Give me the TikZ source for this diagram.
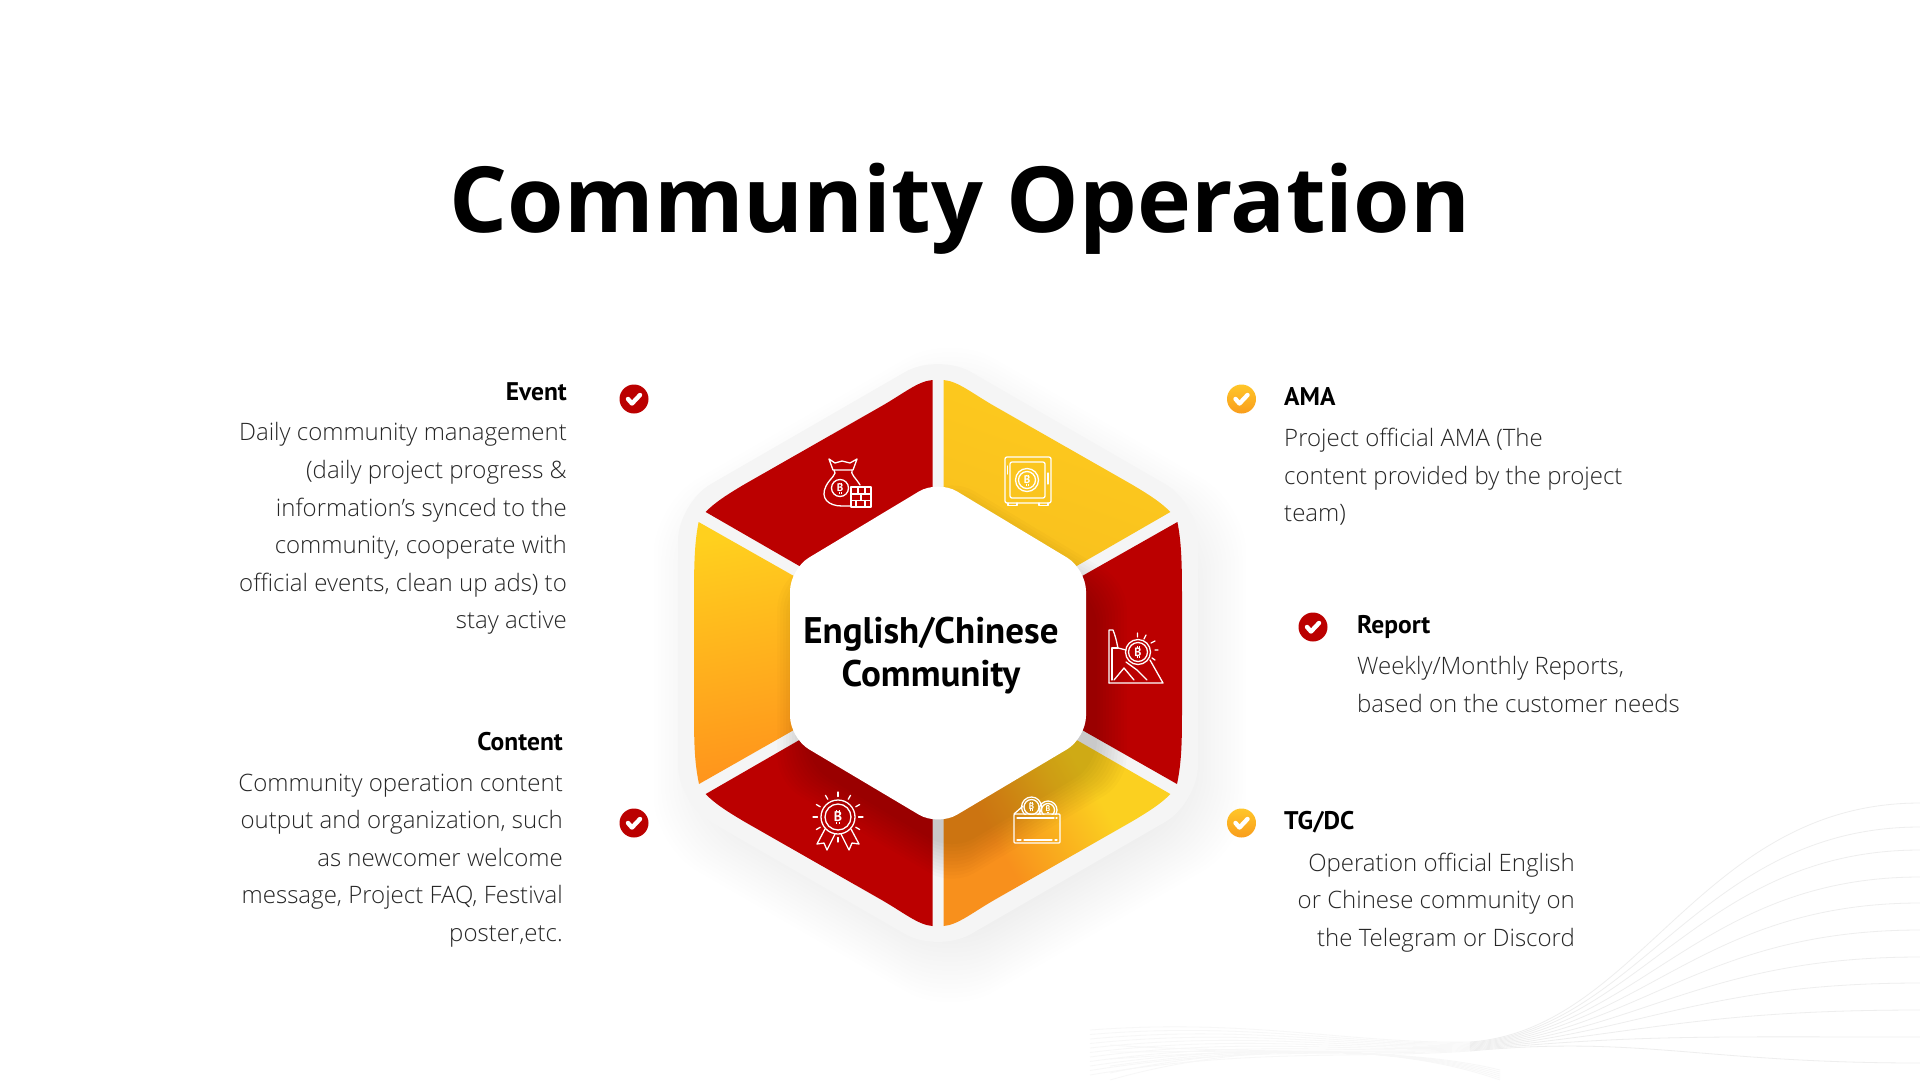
\documentclass[tikz,border=0pt]{standalone}
\usepackage{fontspec}
\setmainfont{Open Sans}[UprightFont=* Light,BoldFont=* Bold]
\newfontfamily\titlefont{Open Sans}[UprightFont=* Bold]
\newfontfamily\headfont{PT Sans}[UprightFont=* Bold]
\definecolor{segred}{HTML}{BB0000}
\definecolor{hexlight}{HTML}{F5F5F5}
\definecolor{waveA}{HTML}{EEEEEE}
\definecolor{waveB}{HTML}{F7F7F7}
\definecolor{FFC629}{HTML}{FFC629}
\definecolor{F99D1C}{HTML}{F99D1C}
\definecolor{segyel}{HTML}{FECB1E}
\definecolor{segyel2}{HTML}{F8C01E}
\definecolor{segtop}{HTML}{FFD01E}
\definecolor{segorange}{HTML}{FF941C}
\definecolor{lrorange}{HTML}{F8901C}
\definecolor{lryellow}{HTML}{FBD020}
\pgfdeclarehorizontalshading{lrseg}{100bp}{color(0bp)=(lrorange); color(36bp)=(lrorange); color(62bp)=(lryellow); color(100bp)=(lryellow)}
\tikzset{
  x=1pt,y=-1pt,
  titletext/.style={font=\titlefont\fontsize{91.3}{100}\selectfont,text=black,inner sep=0pt},
  headtext/.style={font=\headfont\fontsize{25.5}{30}\selectfont,text=black,inner sep=0pt},
  bodytext/.style={font=\fontsize{24}{37.6}\selectfont,text=black!85,inner sep=0pt},
  centertext/.style={font=\headfont\fontsize{37}{43}\selectfont,text=black,inner sep=0pt,align=center},
  iconline/.style={draw=white,line width=1.3pt,line join=round,line cap=round},
  btc/.style={text=white,inner sep=0pt},
  checkmark/.style={draw=white,line width=4.4pt,line cap=round,line join=round},
  redcheck/.style={fill=segred},
  yellowcheck/.style={top color=FFC629,bottom color=F99D1C},
}
% bitcoin mark: letter B with the four ticks, args: name, x, y, size
\newcommand\btcmark[4]{%
  \node[btc,font=\headfont\fontsize{#4}{#4}\selectfont] (#1) at (#2,#3) {B};
  \draw[white,line width=.9pt,shift={(#2,#3)}]
    ({-.08*#4},{-.36*#4}) -- ({-.08*#4},{-.5*#4})
    ({.1*#4},{-.36*#4}) -- ({.1*#4},{-.5*#4})
    ({-.08*#4},{.36*#4}) -- ({-.08*#4},{.5*#4})
    ({.1*#4},{.36*#4}) -- ({.1*#4},{.5*#4});
}
\begin{document}
\begin{tikzpicture}
\useasboundingbox (0,0) rectangle (1920,1080);
\fill[white] (0,0) rectangle (1920,1080);
% background waves
\foreach \i/\e in {0/803,1/827,2/850,3/877,4/903,5/930,6/957,7/983,8/1010,9/1037,10/1063}{
  \draw[waveB,line width=.8pt] (1090,{1030+\i*4.5}) .. controls (1250,{1018+\i*3}) and (1350,{1044+\i*1.5}) .. (1470,{1042+\i*.9});
  \draw[waveA,line width=.8pt] (1470,{1042+\i*.9}) .. controls (1640,{1030+\i*.5}) and (1700,\e) .. (1920,\e);
}
\foreach \i in {0,...,5}{
  \draw[waveB,line width=.8pt] (1110,{1080-\i*7}) .. controls (1250,{1040+\i*3}) and (1400,1045) .. (1500,{1080-\i*2});
}
% outer hexagon shadow
\foreach \s in {.90,.915,...,1.15}{
  \fill[black,opacity=.0055,rounded corners=50pt,shift={(950,675)},scale=\s]
    (0,-300) -- (260,-150) -- (260,150) -- (0,300) -- (-260,150) -- (-260,-150) -- cycle;
}
% light hexagon
\fill[hexlight,rounded corners=38pt] (938,353) -- (1198,503) -- (1198,803) -- (938,953) -- (678,803) -- (678,503) -- cycle;
% segments
\path[fill=segred] (932.5,380) .. controls (918,381) and (903,394) .. (880,407) -- (745,484) .. controls (728,494) and (714,503) .. (705.7,512) -- (815,575) -- (932.5,510) -- cycle;
\shade[top color=segyel,bottom color=segyel2,shading angle=-20] (943.5,380) .. controls (958,381) and (973,394) .. (996,407) -- (1131,484) .. controls (1148,494) and (1162,503) .. (1170.3,512) -- (1061,575) -- (943.5,510) -- cycle;
\shade[top color=segtop,bottom color=segorange,shading angle=10] (698.6,522) -- (815,588) -- (815,718) -- (699,784) .. controls (694,760) and (694,740) .. (694,700) -- (694,606) .. controls (694,570) and (694,545) .. (698.6,522) -- cycle;
\path[fill=segred] (1177.4,522) -- (1061,588) -- (1061,718) -- (1177,784) .. controls (1182,760) and (1182,740) .. (1182,700) -- (1182,606) .. controls (1182,570) and (1182,545) .. (1177.4,522) -- cycle;
\path[fill=segred] (932.5,926) .. controls (918,925) and (903,912) .. (880,899) -- (745,822) .. controls (728,812) and (714,803) .. (705.7,794) -- (815,731) -- (932.5,796) -- cycle;
\shade[shading=lrseg,shading angle=30] (943.5,926) .. controls (958,925) and (973,912) .. (996,899) -- (1131,822) .. controls (1148,812) and (1162,803) .. (1170.3,794) -- (1061,731) -- (943.5,796) -- cycle;
% inner hexagon shadow
\foreach \s in {.98,1.0,...,1.2}{
  \fill[black,opacity=.016,rounded corners=25pt,shift={(952,682)},scale=\s]
    (0,-173) -- (148,-84) -- (148,85) -- (0,173) -- (-148,85) -- (-148,-84) -- cycle;
}
% inner hexagon
\fill[white,rounded corners=22pt] (938,480) -- (1086,569) -- (1086,738) -- (938,826) -- (790,738) -- (790,569) -- cycle;
\node[centertext] (centerlabel) at (931,656) {English/Chinese\\Community};
% title
\node[titletext,anchor=base] (title) at (960,232) {Community Operation};
% icon: money bag
\begin{scope}[iconline]
\draw (829,459) -- (835,463) -- (842,461) -- (850,463) -- (857,459) -- (853,470) -- (833,470) -- cycle;
\draw (834,470) .. controls (838,474) and (830,478) .. (826,486) .. controls (820,498) and (828,506) .. (842,506) -- (850,506);
\draw (852,470) .. controls (850,474) and (856,478) .. (860,485);
\draw (840,488) circle (8.5);
\draw (851,487) rectangle (871,507);
\draw (851,494) -- (871,494) (851,500.5) -- (871,500.5) (858,487) -- (858,494) (865,487) -- (865,494) (861,494) -- (861,500.5) (856,500.5) -- (856,507) (865,500.5) -- (865,507);
\end{scope}
\btcmark{btcbag}{840}{488}{11}
% icon: safe
\begin{scope}[iconline]
\draw[rounded corners=2pt] (1005,457) rectangle (1051,503);
\draw[rounded corners=2pt] (1010,462) rectangle (1045,498);
\draw (1027,480) circle (11.5) (1027,480) circle (8.5);
\draw (1008,503) -- (1008,505.5) -- (1017,505.5) -- (1017,503) (1039,503) -- (1039,505.5) -- (1048,505.5) -- (1048,503);
\draw (1007.5,466) -- (1007.5,474) (1048,473) -- (1048,484);
\end{scope}
\btcmark{btcsafe}{1027}{480}{11}
% icon: falling chart
\begin{scope}[iconline]
\draw (1109,683) -- (1109,630) -- (1113,630) .. controls (1117,640) and (1118,650) .. (1118,648) -- (1126,650);
\draw (1109,683) -- (1163,683) -- (1150,660);
\draw (1118,648) -- (1112,648) -- (1112,680);
\draw (1126,662) -- (1137,670) -- (1147,680) (1114,680) -- (1124,668) -- (1134,680);
\draw (1138,652) circle (12.5) (1138,652) circle (9.5);
\draw (1137.5,633) -- (1137.5,637) (1146,635) -- (1144,639) (1155,641) -- (1151,643) (1158,650) -- (1155,650) (1155,660) -- (1152,658);
\end{scope}
\btcmark{btcchart}{1138}{652}{12}
% icon: medal
\begin{scope}[iconline,shift={(838,817)}]
\draw (0,0) circle (17) (0,0) circle (13);
\foreach \a in {0,30,...,330}{ \ifnum\a=60\relax\else\ifnum\a=120\relax\else\draw (\a:20.5) -- (\a:25);\fi\fi }
\draw (-13,12) -- (-21,27) -- (-14,26) -- (-11,33) -- (-3,17);
\draw (13,12) -- (21,27) -- (14,26) -- (11,33) -- (3,17);
\end{scope}
\btcmark{btcmedal}{838}{817}{14}
% icon: wallet
\begin{scope}[iconline]
\begin{scope}
\clip (1010,790) rectangle (1070,814);
\draw (1031.5,807) circle (10) (1031.5,807) circle (7.5);
\draw (1048,810) circle (9) (1048,810) circle (6.5);
\end{scope}
\draw[rounded corners=1pt] (1014,814) rectangle (1060,843);
\draw (1014,814) -- (1023,806);
\draw (1017,818) -- (1054,818) (1056,818) -- (1057,818) (1017,840) -- (1021,840) (1024,840) -- (1052,840) (1055,840) -- (1057,840);
\end{scope}
\btcmark{btcwa}{1031.5}{806}{9}
\btcmark{btcwb}{1048}{809}{8}
% check marks
\foreach \n/\cx/\cy/\st in {ca/634/399/redcheck,cb/634/823/redcheck,cc/1313/627/redcheck,cd/1241.5/399/yellowcheck,ce/1241.5/823/yellowcheck}{
  \path[\st] (\cx,\cy) circle (14.5);
  \draw[checkmark,shift={(\cx,\cy)}] (-6,0) -- (-2,4.5) -- (6,-4);
}
% texts
\node[headtext,anchor=base east] (eventhead) at (567,400) {Event};
\node[bodytext,anchor=north east,align=right] (eventbody) at (567,422.5) {Daily community management\\(daily project progress \&\\information's synced to the\\community, cooperate with\\official events, clean up ads) to\\stay active};
\node[headtext,anchor=base east] (contenthead) at (563,750) {Content};
\node[bodytext,anchor=north east,align=right] (contentbody) at (563,773.5) {Community operation content\\output and organization, such\\as newcomer welcome\\message, Project FAQ, Festival\\poster,etc.};
\node[headtext,anchor=base west] (amahead) at (1284,405) {AMA};
\node[bodytext,anchor=north west,align=left] (amabody) at (1284,428) {Project official AMA (The\\content provided by the project\\team)};
\node[headtext,anchor=base west] (reporthead) at (1357,633) {Report};
\node[bodytext,anchor=north west,align=left] (reportbody) at (1357,656.5) {Weekly/Monthly Reports,\\based on the customer needs};
\node[headtext,anchor=base west] (tghead) at (1284,829) {TG/DC};
\node[bodytext,anchor=north east,align=right] (tgbody) at (1575,852.5) {Operation official English\\or Chinese community on\\the Telegram or Discord};
\end{tikzpicture}
\end{document}
